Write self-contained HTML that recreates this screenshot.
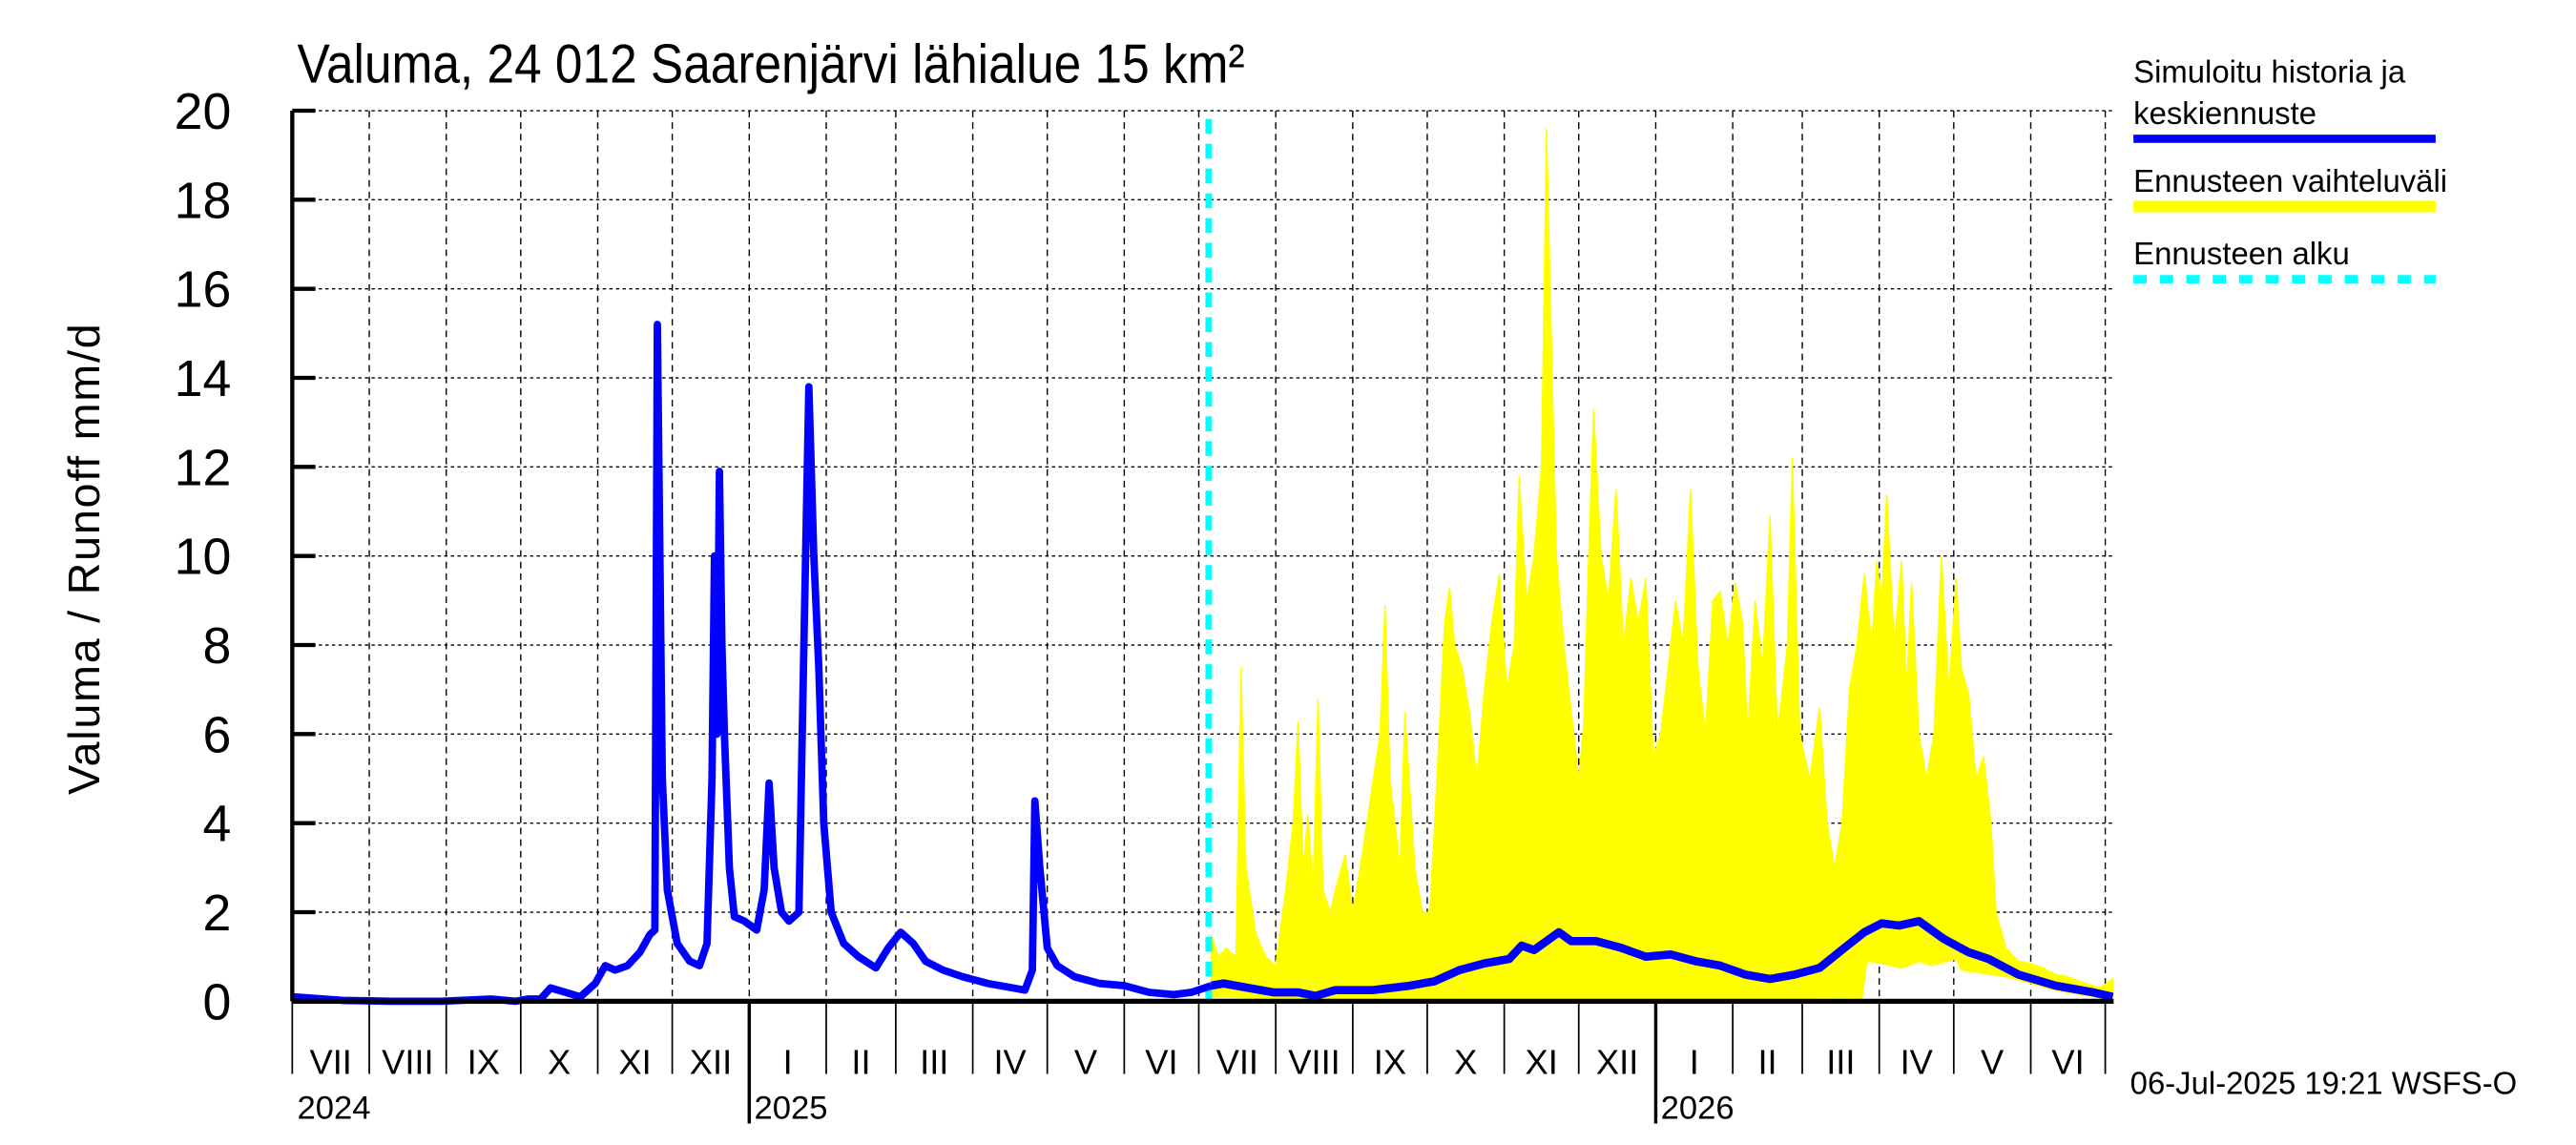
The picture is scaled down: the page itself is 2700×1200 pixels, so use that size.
<!DOCTYPE html>
<html><head><meta charset="utf-8"><style>
html,body{margin:0;padding:0;background:#fff;}
svg{display:block;}
text{font-family:"Liberation Sans",sans-serif;fill:#000;}
</style></head><body>
<svg id="chart" width="2700" height="1200" viewBox="0 0 1560 693" preserveAspectRatio="none" xmlns="http://www.w3.org/2000/svg">
<rect width="1560" height="693" fill="#fff"/>
<g id="grid"></g>
<g id="band"></g>
<g id="lines"></g>
<g id="axes"></g>
<text x="180" y="50" font-size="33" transform="translate(180,0) scale(0.9,1) translate(-180,0)">Valuma, 24 012 Saarenjärvi lähialue 15 km²</text>
<text transform="translate(60,338) rotate(-90)" text-anchor="middle" font-size="27" letter-spacing="1">Valuma / Runoff    mm/d</text>
<g>
<text x="1292" y="50" font-size="19">Simuloitu historia ja</text>
<text x="1292" y="75" font-size="19">keskiennuste</text>
<line x1="1292" y1="84" x2="1475" y2="84" stroke="#0000ff" stroke-width="5"/>
<text x="1292" y="116" font-size="19">Ennusteen vaihteluväli</text>
<line x1="1292" y1="125" x2="1475" y2="125" stroke="#ffff00" stroke-width="7"/>
<text x="1292" y="160" font-size="19">Ennusteen alku</text>
<line x1="1292" y1="169" x2="1475" y2="169" stroke="#00ffff" stroke-width="5" stroke-dasharray="8,8"/>
</g>
<text x="1290" y="662" font-size="19">06-Jul-2025 19:21 WSFS-O</text>
</svg>
<script>
const yTicks = [0,2,4,6,8,10,12,14,16,18,20];
const monthLabels = ["VII","VIII","IX","X","XI","XII","I","II","III","IV","V","VI","VII","VIII","IX","X","XI","XII","I","II","III","IV","V","VI"];
const monthStartDays = [0,31,62,92,123,153,184,215,243,274,304,335,365,396,427,457,488,518,549,580,608,639,669,700,730];
const yearLabels = ["2024","2025","2026"];
const yearDays = [0,184,549];
const forecastStartDay = 370;
const histDays = [0,20,40,60,80,90,95,100,104,110,116,122,126,130,135,140,144,146,147,149,151,155,160,164,167,169,170,171,172,173,174,176,178,182,187,190,192,194,197,200,204,206,208,210,212,214,217,222,228,235,240,245,250,255,262,270,280,290,295,298,299,301,304,308,315,325,335,345,355,362,370];
const histVals = [0.1,0.02,0,0,0.05,0,0.05,0.05,0.3,0.2,0.1,0.4,0.8,0.7,0.8,1.1,1.5,1.6,15.2,5,2.5,1.3,0.9,0.8,1.3,5,10,6,11.9,8,6,3,1.9,1.8,1.6,2.5,4.9,3,2,1.8,2,8,13.8,10,7.5,4,2,1.3,1.0,0.75,1.2,1.55,1.3,0.9,0.7,0.55,0.4,0.3,0.25,0.7,4.5,3,1.2,0.8,0.55,0.4,0.35,0.2,0.15,0.2,0.35];
const meanDays = [370,375,385,395,405,412,420,435,450,460,470,480,490,495,500,510,515,525,535,545,555,565,575,585,595,605,615,625,633,640,647,655,665,675,683,695,710,725,733];
const meanVals = [0.35,0.4,0.3,0.2,0.2,0.12,0.25,0.25,0.35,0.45,0.7,0.85,0.95,1.25,1.15,1.55,1.35,1.35,1.2,1.0,1.05,0.9,0.8,0.6,0.5,0.6,0.75,1.2,1.55,1.75,1.7,1.8,1.4,1.1,0.95,0.6,0.35,0.2,0.1];
const upperDays = [370,373,376,380,382,384,388,392,396,400,403,405,407,409,411,413,415,418,420,424,427,430,434,438,440,442,446,448,452,455,458,460,464,466,468,471,474,477,480,483,486,489,492,494,497,500,503,505,507,509,512,516,518,520,522,524,527,530,533,536,539,542,545,548,551,554,557,560,563,566,569,572,575,578,581,584,586,589,592,595,598,602,604,607,611,615,618,621,624,627,630,633,636,638,640,642,645,648,650,652,655,658,661,664,667,670,672,675,678,681,684,686,690,695,700,705,710,715,720,725,728,733];
const upperVals = [1.5,1.0,1.2,1.0,7.5,3,1.5,1.0,0.8,2.5,4,6.3,3,4.2,2.5,6.8,2.5,2,2.5,3.3,2,3,4.5,6,8.9,5,3,6.5,3,2,2,4,8.5,9.3,8,7.5,6.5,5,7,8.5,9.6,7,8,11.8,9,10,12,19.6,14.8,10,8,6,5,6.2,10,13.3,10,9,11.5,8,9.5,8.5,9.5,5.5,6,7.5,9,8,11.5,7.5,6,9,9.2,8,9.4,8.5,6,9,7.5,10.9,6,8,12.2,6,5,6.6,4,3,4,7,8,9.6,8,9.9,9,11.4,8,9.9,7,9.4,6,5,6,10,7,9.5,7.5,6.9,5,5.5,4,2,1.2,0.9,0.85,0.75,0.6,0.55,0.45,0.35,0.3,0.5];
const lowerDays = [370,400,450,500,550,600,625,632,634,640,648,651,655,660,670,672,690,710,725,733];
const lowerVals = [0.1,0.05,0.05,0.05,0.05,0.05,0.08,0.05,0.9,0.85,0.75,0.8,0.9,0.8,0.95,0.7,0.55,0.25,0.1,0];

const X0=177, X1=1280, Y0=606, Y20=67, PXD=1.504;
function xs(d){return X0+d*PXD;}
function ys(v){return Y0-(v/20)*(Y0-Y20);}
const NS="http://www.w3.org/2000/svg";
function mk(tag,attrs,parent){const e=document.createElementNS(NS,tag);for(const k in attrs)e.setAttribute(k,attrs[k]);parent.appendChild(e);return e;}
const grid=document.getElementById('grid'), axes=document.getElementById('axes'), band=document.getElementById('band'), lines=document.getElementById('lines');

yTicks.forEach(v=>{
  const g=mk('line',{x1:X0,x2:X1,y1:ys(v),y2:ys(v),stroke:'#000','stroke-width':0.8,'stroke-dasharray':'2,2'},grid);
  
  
  const t=mk('line',{x1:X0,x2:X0+14,y1:ys(v),y2:ys(v),stroke:'#000','stroke-width':2.5},axes);
  
  
  const l=mk('text',{x:140,y:ys(v)+11,'text-anchor':'end','font-size':31},axes);
  l.textContent=v;
  
  
});
monthStartDays.forEach((d,i)=>{
  const x=xs(d);
  if(i>0){
    const g=mk('line',{x1:x,x2:x,y1:Y20,y2:Y0,stroke:'#000','stroke-width':0.8,'stroke-dasharray':'4,3'},grid);
    
    
  }
  const isYear=yearDays.indexOf(d)>0;
  const t=mk('line',{x1:x,x2:x,y1:Y0,y2:isYear?680:650,stroke:'#000','stroke-width':isYear?2:1},axes);
  
  
  if(i<monthLabels.length){
    const l=mk('text',{x:(xs(d)+xs(monthStartDays[i+1]))/2,y:650,'text-anchor':'middle','font-size':21},axes);
    l.textContent=monthLabels[i];
    
    
  }
});
yearLabels.forEach((y,i)=>{
  const l=mk('text',{x:xs(yearDays[i])+3,y:677,'font-size':20},axes);
  l.textContent=y;
  
  
});
const ax=mk('line',{x1:X0,x2:X0,y1:Y20,y2:Y0,stroke:'#000','stroke-width':2.5},axes);


const bx=mk('line',{x1:X0,x2:X1,y1:Y0,y2:Y0,stroke:'#000','stroke-width':3},axes);



let pts=upperDays.map((d,i)=>xs(d)+','+ys(upperVals[i]));
for(let i=lowerDays.length-1;i>=0;i--)pts.push(xs(lowerDays[i])+','+ys(lowerVals[i]));
const poly=mk('polygon',{points:pts.join(' '),fill:'#ffff00',stroke:'#ffff00','stroke-width':0.8},band);



const cy=mk('line',{x1:xs(forecastStartDay)-1.5,x2:xs(forecastStartDay)-1.5,y1:Y20+5,y2:Y0,stroke:'#00ffff','stroke-width':4,'stroke-dasharray':'9,6'},lines);



const hp=mk('polyline',{points:histDays.map((d,i)=>xs(d)+','+ys(histVals[i])).join(' '),fill:'none',stroke:'#0000ff','stroke-width':4.5,'stroke-linejoin':'round'},lines);


const mp=mk('polyline',{points:meanDays.map((d,i)=>xs(d)+','+ys(meanVals[i])).join(' '),fill:'none',stroke:'#0000ff','stroke-width':5,'stroke-linejoin':'round'},lines);


</script>
</body></html>
